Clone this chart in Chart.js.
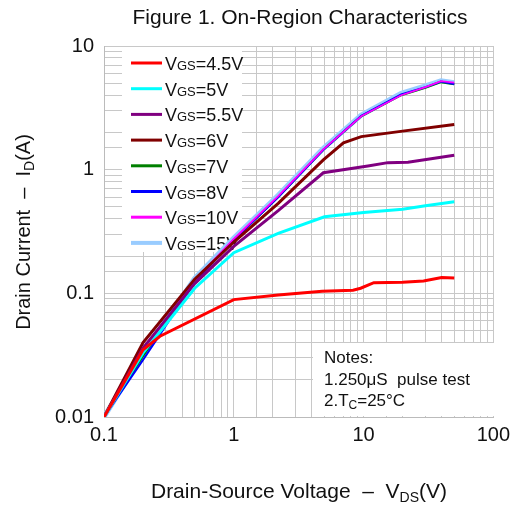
<!DOCTYPE html>
<html>
<head>
<meta charset="utf-8">
<script src="https://cdn.jsdelivr.net/npm/chart.js@4.4.0/dist/chart.umd.min.js"></script>
<style>
html, body { margin: 0; padding: 0; background: #fff; }
#wrap { width: 516px; height: 510px; }
</style>
</head>
<body>
<div id="wrap"><canvas id="onRegionChart" width="516" height="510"></canvas></div>
<script>
// values (log-log)
const seriesLabels = ['4.5V', '5V', '5.5V', '6V', '7V', '8V', '10V', '15V'];
const xTickLabels = ['0.1', '1', '10', '100'];
const yTickLabels = ['0.01', '0.1', '1', '10'];

const vds45 = [0.1, 0.2, 0.27, 1, 2.2, 4.8, 8.3, 9.5, 12, 20, 29, 40, 50];
const id45 = [0.01, 0.035, 0.045, 0.089, 0.097, 0.104, 0.106, 0.11, 0.122, 0.123, 0.126, 0.134, 0.133];

const vds5 = [0.1, 0.2, 0.5, 1, 2.2, 5, 10, 20, 30, 50];
const id5 = [0.01, 0.033, 0.11, 0.213, 0.305, 0.416, 0.45, 0.478, 0.51, 0.55];

const vds55 = [0.1, 0.2, 0.5, 1, 2.2, 4.9, 10.8, 15.4, 22, 50];
const id55 = [0.01, 0.036, 0.12, 0.24, 0.466, 0.944, 1.07, 1.14, 1.15, 1.31];

const vds6 = [0.1, 0.2, 0.5, 1, 2.2, 4.9, 7, 9.6, 20, 50];
const id6 = [0.01, 0.04, 0.13, 0.26, 0.534, 1.2, 1.65, 1.85, 2.05, 2.32];

const vdsHigh = [0.1, 0.2, 0.5, 1, 2.2, 4.9, 9.6, 19.5, 30, 39.5, 50];
const id7 = [0.01, 0.031, 0.125, 0.27, 0.6, 1.45, 2.7, 4.0, 4.6, 5.1, 4.9];
const id8 = [0.01, 0.029, 0.123, 0.27, 0.6, 1.45, 2.72, 4.05, 4.65, 5.15, 4.92];
const id10 = [0.01, 0.034, 0.128, 0.275, 0.61, 1.46, 2.7, 4.0, 4.65, 5.2, 5.05];
const id15 = [0.01, 0.032, 0.132, 0.28, 0.62, 1.49, 2.76, 4.14, 4.75, 5.24, 5.05];

const colors = ['#ff0000', '#00ffff', '#800080', '#800000', '#008000', '#0000ff', '#ff00ff', '#99ccff'];
const widths = [3, 3, 3, 3, 2, 2, 1.8, 5];
// lower order is drawn on top
const drawOrder = [0, 1, 2, 3, 6, 5, 4, 7];

function toPoints(xs, ys) {
    return xs.map((x, i) => ({ x: x, y: ys[i] }));
}

const curves = [
    toPoints(vds45, id45), toPoints(vds5, id5), toPoints(vds55, id55), toPoints(vds6, id6),
    toPoints(vdsHigh, id7), toPoints(vdsHigh, id8), toPoints(vdsHigh, id10), toPoints(vdsHigh, id15)
];

const FONT = 'Arial, "Liberation Sans", sans-serif';

// draw text made of pieces (for subscripts)
function drawParts(ctx, parts, x, y, align) {
    let total = 0;
    parts.forEach(p => {
        ctx.font = p.size + 'px ' + FONT;
        p.w = ctx.measureText(p.t).width;
        total += p.w;
    });
    let cx = align === 'center' ? x - total / 2 : x;
    parts.forEach(p => {
        ctx.font = p.size + 'px ' + FONT;
        ctx.fillText(p.t, cx, y + (p.dy || 0));
        cx += p.w;
    });
}

const decorations = {
    id: 'decorations',
    beforeDatasetsDraw(chart) {
        const ctx = chart.ctx;
        ctx.save();
        // legend box
        ctx.fillStyle = '#fff';
        ctx.fillRect(122, 47, 120, 205);
        ctx.textBaseline = 'alphabetic';
        ctx.textAlign = 'left';
        for (let i = 0; i < seriesLabels.length; i++) {
            const y = 63 + i * 25.7;
            ctx.strokeStyle = colors[i];
            ctx.lineWidth = i === 7 ? 4 : 3;
            ctx.beginPath();
            ctx.moveTo(131, y);
            ctx.lineTo(162, y);
            ctx.stroke();
            ctx.fillStyle = '#111';
            drawParts(ctx, [
                { t: 'V', size: 18 },
                { t: 'GS', size: 13 },
                { t: '=' + seriesLabels[i], size: 18 }
            ], 165, y + 7, 'left');
        }
        // notes box
        ctx.fillStyle = '#fff';
        ctx.fillRect(313, 343, 181, 73);
        ctx.fillStyle = '#111';
        drawParts(ctx, [{ t: 'Notes:', size: 17 }], 324, 363, 'left');
        drawParts(ctx, [{ t: '1.250\u03bcS  pulse test', size: 17 }], 324, 385, 'left');
        drawParts(ctx, [
            { t: '2.T', size: 17 },
            { t: 'C', size: 12, dy: 3 },
            { t: '=25\u00b0C', size: 17 }
        ], 324, 406, 'left');
        ctx.restore();
    },
    afterDraw(chart) {
        const ctx = chart.ctx;
        ctx.save();
        ctx.fillStyle = '#111';
        ctx.textBaseline = 'alphabetic';
        drawParts(ctx, [{ t: 'Figure 1. On-Region Characteristics', size: 21 }], 300, 24, 'center');
        drawParts(ctx, [
            { t: 'Drain-Source Voltage  \u2013  V', size: 21 },
            { t: 'DS', size: 14, dy: 4 },
            { t: '(V)', size: 21 }
        ], 299, 498, 'center');
        ctx.translate(30, 232);
        ctx.rotate(-Math.PI / 2);
        drawParts(ctx, [
            { t: 'Drain Current  \u2013  I', size: 20 },
            { t: 'D', size: 14, dy: 4 },
            { t: '(A)', size: 20 }
        ], 0, 0, 'center');
        ctx.restore();
    }
};

function decadeLabel(value, labels) {
    const found = labels.find(l => Math.abs(parseFloat(l) - value) < value * 1e-6);
    return found === undefined ? '' : found;
}

new Chart(document.getElementById('onRegionChart'), {
    type: 'scatter',
    data: {
        datasets: curves.map((pts, i) => ({
            label: 'VGS=' + seriesLabels[i],
            data: pts,
            showLine: true,
            borderColor: colors[i],
            backgroundColor: colors[i],
            borderWidth: widths[i],
            order: drawOrder[i],
            pointRadius: 0,
            tension: 0
        }))
    },
    options: {
        responsive: false,
        animation: false,
        layout: { padding: { top: 46, right: 20, left: 0, bottom: 0 } },
        plugins: {
            legend: { display: false },
            tooltip: { enabled: false }
        },
        scales: {
            x: {
                type: 'logarithmic',
                min: 0.1,
                max: 100,
                afterFit: scale => { scale.height = 93; },
                grid: { color: '#c8c8c8', lineWidth: 1, drawTicks: false },
                border: { color: '#bbbbbb' },
                ticks: {
                    autoSkip: false,
                    maxRotation: 0,
                    padding: 6,
                    color: '#111',
                    font: { family: FONT, size: 20 },
                    callback: v => decadeLabel(v, xTickLabels)
                }
            },
            y: {
                type: 'logarithmic',
                min: 0.01,
                max: 10,
                afterFit: scale => { scale.width = 104; },
                grid: { color: '#c8c8c8', lineWidth: 1, drawTicks: false },
                border: { color: '#bbbbbb' },
                ticks: {
                    autoSkip: false,
                    padding: 10,
                    color: '#111',
                    font: { family: FONT, size: 20 },
                    callback: v => decadeLabel(v, yTickLabels)
                }
            }
        }
    },
    plugins: [decorations]
});
</script>
</body>
</html>
